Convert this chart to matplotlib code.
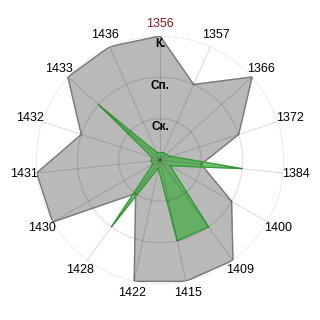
import matplotlib
matplotlib.use("Agg")
import matplotlib.pyplot as plt
import numpy as np

plt.rcParams['font.family'] = ['Liberation Sans', 'DejaVu Sans']

categories = ['1356', '1357', '1366', '1372', '1384', '1400', '1409', '1415',
              '1422', '1428', '1430', '1431', '1432', '1433', '1436']
# серая область (уровни 0..3)
gray_vals = [3, 2, 3, 2, 1, 2, 3, 3, 3, 1, 3, 3, 2, 3, 3]
# зелёная область
green_vals = [0.18, 0.2, 0.2, 0.28, 2, 0.28, 2, 2, 0.2, 2, 0.2, 0.22, 0.2, 2, 0.2]
level_labels = ['Ск.', 'Сп.', 'К.']
level_vals = [1, 2, 3]

n = len(categories)
angles = np.linspace(0, 2 * np.pi, n, endpoint=False)
ang_c = np.append(angles, angles[0])

fig = plt.figure(figsize=(3.2, 3.2), dpi=100)
ax = fig.add_axes([0.1125, 0.1125, 0.775, 0.775], projection='polar')
ax.set_theta_zero_location('N')
ax.set_theta_direction(-1)
ax.set_ylim(0, 3)

ax.fill(ang_c, gray_vals + gray_vals[:1], color='#b9b9b9', zorder=1)
ax.plot(ang_c, gray_vals + gray_vals[:1], color='#7a7a7a', linewidth=1, zorder=1.5)
ax.fill(ang_c, green_vals + green_vals[:1], color='#2ea82e', alpha=0.6, zorder=1.6)
ax.plot(ang_c, green_vals + green_vals[:1], color='#3a9a3a', linewidth=0.8, zorder=1.7)

ax.set_axisbelow(False)
ax.set_xticks(angles)
ax.set_xticklabels([])
ax.set_yticks(level_vals)
ax.set_yticklabels([])
ax.grid(True, color='black', alpha=0.13, linewidth=0.8)
ax.spines['polar'].set_visible(False)
ax.tick_params(length=0)

for a, lab in zip(angles, categories):
    col = '#8b1a1a' if lab == '1356' else 'black'
    ax.text(a, 3.3, lab, ha='center', va='center', fontsize=9, color=col, clip_on=False)

for v, lab in zip(level_vals, level_labels):
    ax.text(0, v - 0.2, lab, ha='center', va='center', fontsize=8.5,
            fontweight='bold', color='black', zorder=5)

fig.savefig('out.png', dpi=100)
